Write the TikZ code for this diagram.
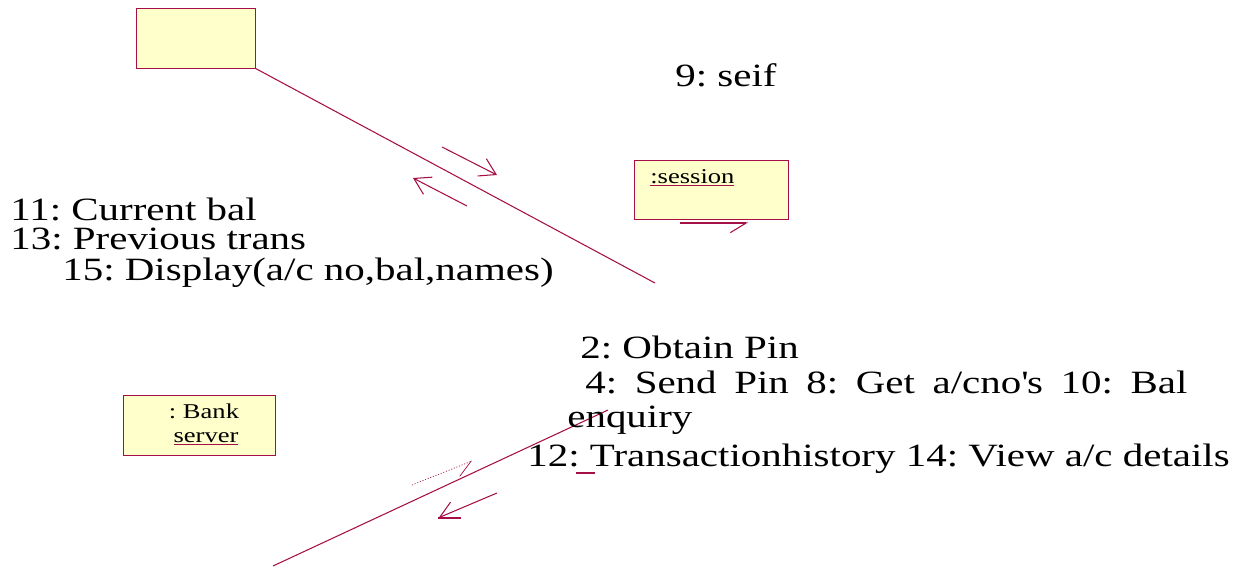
\documentclass[tikz,border=0pt]{standalone}
\usepackage{fontspec}
\setmainfont{Liberation Serif}[FakeStretch=1.26]
\usepackage{tikz}
\usetikzlibrary{arrows.meta, positioning}

\definecolor{umlred}{RGB}{165,15,70}
\definecolor{umlfill}{RGB}{255,255,204}
\newcommand{\objname}[1]{{\color{umlred}\underline{\color{black}#1}}}
\frenchspacing

\begin{document}
\begin{tikzpicture}[x=0.02cm, y=-0.02cm,
    obj/.style={draw=umlred, fill=umlfill, inner sep=0pt},
    link/.style={draw=umlred, line width=0.6pt},
    msg/.style={draw=umlred, line width=0.6pt, -{Straight Barb[length=9pt, width=11pt]}},
    half/.style={draw=umlred, line width=0.6pt, -{Straight Barb[right, length=9pt, width=11pt]}},
    lbl/.style={font=\fontsize{18.5}{18.5}\selectfont, inner sep=0pt, anchor=base west},
    small/.style={font=\fontsize{12}{13}\selectfont, inner sep=0pt}
]
\useasboundingbox (0,0) rectangle (1252,568);

% Objects
\node[obj, minimum width=2.38cm, minimum height=1.2cm] (atm) at (195.5,38) {};
\node[obj, minimum width=3.08cm, minimum height=1.18cm] (session) at (711,189.5) {};
\node[small, anchor=base west] (sesname) at (650,183) {\objname{:session}};
\node[obj, minimum width=3.04cm, minimum height=1.2cm] (bank) at (199,425) {};
\node[small, anchor=base] (bankname) at (204,418) {: Bank};
\node[small, anchor=base] (bankname2) at (206,442) {\objname{server}};

% Links
\coordinate (e1) at (655,283);
\draw[link] (atm.south east) -- (e1);
\coordinate (e2) at (273,566);
\coordinate (e3) at (608,410);
\draw[link] (e2) -- (e3);

% Messages
\coordinate (m1a) at (442,147); \coordinate (m1b) at (497,175);
\draw[msg] (m1a) -- (m1b);
\coordinate (m2a) at (467,206); \coordinate (m2b) at (413,178);
\draw[msg] (m2a) -- (m2b);
\coordinate (m3a) at (680,223); \coordinate (m3b) at (748,223);
\draw[half] (m3a) -- (m3b);
\coordinate (m4a) at (412,485); \coordinate (m4b) at (472,461);
\draw[half, densely dotted, line width=0.4pt] (m4a) -- (m4b);
\coordinate (m5a) at (497,493); \coordinate (m5b) at (438,518);
\draw[half] (m5a) -- (m5b);
\draw[umlred, line width=1.7pt] (438,518) -- (461,518);
\draw[umlred, line width=1.7pt] (576,473) -- (595,473);

% Labels
\node[lbl] (self) at (675,86) {9: seif};
\node[lbl] (l11) at (10,220) {11: Current bal};
\node[lbl] (l13) at (10,249) {13: Previous trans};
\node[lbl] (l15) at (62,280) {15: Display(a/c no,bal,names)};
\node[lbl] (l2) at (580,358) {2: Obtain Pin};
\node[lbl] (l4) at (585,393) {\spaceskip=10pt 4: Send Pin 8: Get a/cno\textquotesingle s 10: Bal};
\node[lbl] (l4b) at (567,427) {enquiry};
\node[lbl] (l12) at (527,466) {12: Transactionhistory 14: View a/c details};

\end{tikzpicture}
\end{document}
